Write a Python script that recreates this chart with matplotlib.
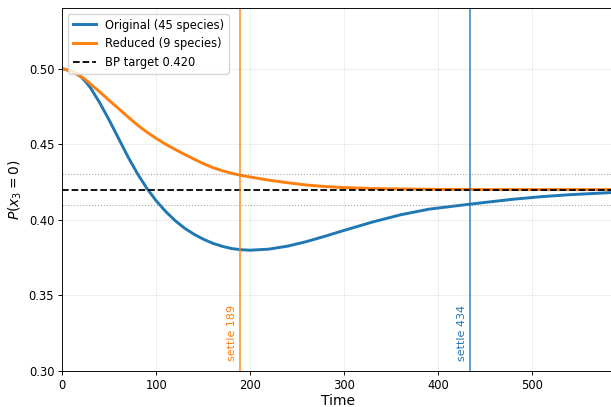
import matplotlib
matplotlib.use('Agg')
import matplotlib.pyplot as plt

# values
t = [0, 10, 15, 20, 25, 30, 40, 50, 60, 70, 80, 90, 100, 110, 120, 130, 140,
     150, 160, 170, 180, 190, 200, 220, 240, 260, 280, 300, 330, 360, 390,
     420, 450, 480, 510, 540, 584]
p_original = [0.5000, 0.4982, 0.4966, 0.4945, 0.4912, 0.4873, 0.4772, 0.4658,
              0.4537, 0.4415, 0.4305, 0.4208, 0.4125, 0.4055, 0.3995, 0.3945,
              0.3905, 0.3872, 0.3845, 0.3825, 0.3810, 0.3802, 0.3799, 0.3806,
              0.3826, 0.3856, 0.3892, 0.3930, 0.3985, 0.4033, 0.4070, 0.4093,
              0.4115, 0.4136, 0.4153, 0.4166, 0.4180]
p_reduced = [0.5000, 0.4982, 0.4967, 0.4948, 0.4925, 0.4898, 0.4845, 0.4789,
             0.4735, 0.4680, 0.4627, 0.4580, 0.4538, 0.4500, 0.4466, 0.4433,
             0.4402, 0.4372, 0.4346, 0.4325, 0.4308, 0.4294, 0.4283, 0.4262,
             0.4245, 0.4230, 0.4220, 0.4213, 0.4207, 0.4204, 0.4202, 0.4201,
             0.4200, 0.4200, 0.4200, 0.4200, 0.4200]
target = 0.420
band = 0.01
settle_original = 434
settle_reduced = 189

s = 0.83  # reference looks like a scaled-down render
plt.rcParams.update({
    'xtick.labelsize': 10 * s, 'ytick.labelsize': 10 * s,
    'xtick.major.size': 3.5 * s, 'ytick.major.size': 3.5 * s,
    'xtick.major.width': 0.8 * s, 'ytick.major.width': 0.8 * s,
    'xtick.major.pad': 3.5 * s, 'ytick.major.pad': 3.5 * s,
    'axes.linewidth': 0.8 * s,
})

fig = plt.figure(figsize=(6.11, 4.07), dpi=100)
ax = fig.add_axes([0.102, 0.0885, 0.901, 0.8915])

ax.plot(t, p_original, color='#1f77b4', lw=2.1, label='Original (45 species)')
ax.plot(t, p_reduced, color='#ff7f0e', lw=2.1, label='Reduced (9 species)')
ax.axhline(target, color='black', ls='--', lw=1.3, label=f'BP target {target:.3f}')
ax.axhline(target + band, color='grey', ls=':', lw=0.8, alpha=0.7)
ax.axhline(target - band, color='grey', ls=':', lw=0.8, alpha=0.7)

ax.axvline(settle_reduced, color='#ff7f0e', lw=1.1, alpha=0.9)
ax.axvline(settle_original, color='#1f77b4', lw=1.1, alpha=0.9)
ax.text(settle_reduced - 3, 0.3065, f'settle {settle_reduced}', rotation=90,
        ha='right', va='bottom', fontsize=8, color='#ff7f0e')
ax.text(settle_original - 3, 0.3065, f'settle {settle_original}', rotation=90,
        ha='right', va='bottom', fontsize=8, color='#1f77b4')

ax.set_xlim(0, 586)
ax.set_ylim(0.30, 0.54)
ax.set_xticks([0, 100, 200, 300, 400, 500])
ax.set_yticks([0.30, 0.35, 0.40, 0.45, 0.50])
ax.set_xlabel('Time', fontsize=10, labelpad=1.5)
ax.set_ylabel('$P(x_3 = 0)$', fontsize=10, labelpad=3)
ax.grid(True, alpha=0.2, lw=0.7)
ax.legend(loc='upper left', fontsize=8.3)

fig.savefig('out.png', dpi=100)
